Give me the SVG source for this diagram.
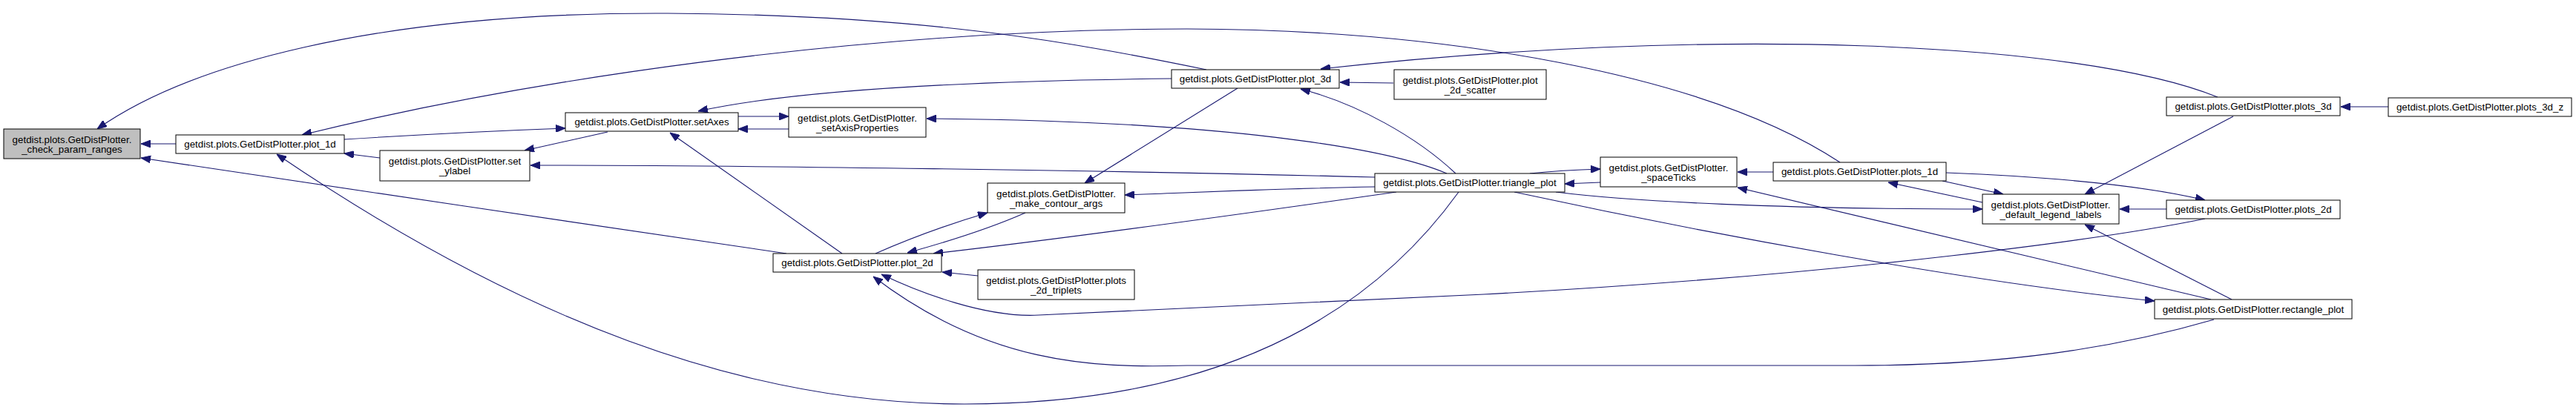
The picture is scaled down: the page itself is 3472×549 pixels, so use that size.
<svg xmlns="http://www.w3.org/2000/svg" width="3472" height="549" viewBox="0 0 3472 549">
<style>
  .node rect { fill: #ffffff; stroke: #000000; stroke-width: 1; }
  .node.root rect { fill: #bfbfbf; }
  .node text { font-family: "Liberation Sans", Arial, sans-serif; font-size: 13.33px; fill: #000000; text-anchor: middle; }
  .edges path { fill: none; stroke: #191970; stroke-width: 1.1; marker-end: url(#arrow); }
</style>
<defs>
  <marker id="arrow" markerUnits="userSpaceOnUse" markerWidth="13" markerHeight="10" refX="13" refY="5" orient="auto">
    <path d="M0,0 L13,5 L0,10 z" fill="#191970" stroke="#191970" stroke-width="1"/>
  </marker>
</defs>
<rect x="0" y="0" width="3472" height="549" fill="#ffffff"/>
<g class="edges" id="edges">
  <path id="e1" d="M237,194 L190,194"/>
  <path id="e2" d="M1626,94 C1450,58 1250,20 900,18 C500,16 250,90 131,174"/>
  <path id="e3" d="M1060,342 C800,304 450,252 190,213"/>
  <path id="e4" d="M512,213 L464,207"/>
  <path id="e5" d="M1966,259 C1850,420 1650,545 1300,545 C1000,545 700,430 373,208"/>
  <path id="e6" d="M464,188 C560,182 680,176 762,173"/>
  <path id="e7" d="M2480,219 C2300,100 1950,40 1600,39 C1150,40 700,110 407,182"/>
  <path id="e8" d="M995,157 L1063,157"/>
  <path id="e9" d="M1063,174 L995,174"/>
  <path id="e10" d="M1579,106 C1400,108 1100,115 941,150"/>
  <path id="e11" d="M819,178 L707,203"/>
  <path id="e12" d="M1853,239 C1500,230 1000,223 715,223"/>
  <path id="e13" d="M1135,342 L903,179"/>
  <path id="e14" d="M1950,234 C1870,200 1650,163 1249,160"/>
  <path id="e15" d="M1180,342 C1230,320 1280,302 1331,287"/>
  <path id="e16" d="M1382,287 C1330,310 1270,328 1223,341"/>
  <path id="e17" d="M1668,119 L1462,247"/>
  <path id="e18" d="M1853,252 C1700,255 1600,260 1516,263"/>
  <path id="e19" d="M1882,259 C1700,285 1450,320 1258,342"/>
  <path id="e20" d="M1318,372 L1270,367"/>
  <path id="e21" d="M2972,295 C2850,320 2500,370 2000,397 C1750,410 1500,419 1400,425 C1330,429 1240,395 1188,370"/>
  <path id="e22" d="M2984,431 C2850,470 2700,493 2500,493 L1600,493 C1470,497 1330,490 1177,373"/>
  <path id="e23" d="M1878,112 L1806,111"/>
  <path id="e24" d="M1962,234 C1910,185 1830,140 1753,120"/>
  <path id="e25" d="M2989,131 C2800,55 2300,35 1780,93"/>
  <path id="e26" d="M2062,234 C2090,231 2120,229 2157,228"/>
  <path id="e27" d="M2157,246 L2109,248"/>
  <path id="e28" d="M2390,232 L2342,232"/>
  <path id="e29" d="M2980,404 L2342,253"/>
  <path id="e30" d="M2097,259 C2200,272 2400,282 2672,282"/>
  <path id="e31" d="M2041,259 C2300,315 2650,380 2904,406"/>
  <path id="e32" d="M2618,244 L2700,262"/>
  <path id="e33" d="M2672,273 L2545,246"/>
  <path id="e34" d="M2623,233 C2750,238 2880,248 2972,270"/>
  <path id="e35" d="M3010,157 L2810,262"/>
  <path id="e36" d="M2920,282 L2857,282"/>
  <path id="e37" d="M3008,404 L2810,303"/>
  <path id="e38" d="M3219,144 L3155,144"/>
</g>
<g class="node root" id="n_check_param_ranges">
  <rect x="5" y="174" width="184" height="40"/>
  <text x="97" y="192.5">getdist.plots.GetDistPlotter.</text>
  <text x="97" y="206">_check_param_ranges</text>
</g>
<g class="node" id="n_plot_1d">
  <rect x="237" y="182" width="227" height="25"/>
  <text x="350.5" y="199">getdist.plots.GetDistPlotter.plot_1d</text>
</g>
<g class="node" id="n_set_ylabel">
  <rect x="512" y="203" width="202" height="41"/>
  <text x="613" y="221.5">getdist.plots.GetDistPlotter.set</text>
  <text x="613" y="235">_ylabel</text>
</g>
<g class="node" id="n_setAxes">
  <rect x="762" y="152" width="233" height="25"/>
  <text x="878.5" y="169">getdist.plots.GetDistPlotter.setAxes</text>
</g>
<g class="node" id="n_setAxisProperties">
  <rect x="1063" y="145" width="185" height="40"/>
  <text x="1155.5" y="163.5">getdist.plots.GetDistPlotter.</text>
  <text x="1155.5" y="177">_setAxisProperties</text>
</g>
<g class="node" id="n_make_contour_args">
  <rect x="1331" y="247" width="185" height="40"/>
  <text x="1423.5" y="265.5">getdist.plots.GetDistPlotter.</text>
  <text x="1423.5" y="279">_make_contour_args</text>
</g>
<g class="node" id="n_plot_2d">
  <rect x="1042" y="342" width="227" height="25"/>
  <text x="1155.5" y="359">getdist.plots.GetDistPlotter.plot_2d</text>
</g>
<g class="node" id="n_plots_2d_triplets">
  <rect x="1318" y="364" width="211" height="40"/>
  <text x="1423.5" y="382.5">getdist.plots.GetDistPlotter.plots</text>
  <text x="1423.5" y="396">_2d_triplets</text>
</g>
<g class="node" id="n_plot_3d">
  <rect x="1579" y="94" width="226" height="25"/>
  <text x="1692" y="111">getdist.plots.GetDistPlotter.plot_3d</text>
</g>
<g class="node" id="n_plot_2d_scatter">
  <rect x="1879" y="94" width="205" height="40"/>
  <text x="1981.5" y="112.5">getdist.plots.GetDistPlotter.plot</text>
  <text x="1981.5" y="126">_2d_scatter</text>
</g>
<g class="node" id="n_triangle_plot">
  <rect x="1853" y="234" width="256" height="25"/>
  <text x="1981" y="251">getdist.plots.GetDistPlotter.triangle_plot</text>
</g>
<g class="node" id="n_spaceTicks">
  <rect x="2157" y="212" width="184" height="40"/>
  <text x="2249" y="230.5">getdist.plots.GetDistPlotter.</text>
  <text x="2249" y="244">_spaceTicks</text>
</g>
<g class="node" id="n_plots_1d">
  <rect x="2390" y="219" width="233" height="25"/>
  <text x="2506.5" y="236">getdist.plots.GetDistPlotter.plots_1d</text>
</g>
<g class="node" id="n_default_legend_labels">
  <rect x="2672" y="262" width="184" height="40"/>
  <text x="2764" y="280.5">getdist.plots.GetDistPlotter.</text>
  <text x="2764" y="294">_default_legend_labels</text>
</g>
<g class="node" id="n_plots_3d">
  <rect x="2920" y="131" width="234" height="25"/>
  <text x="3037" y="148">getdist.plots.GetDistPlotter.plots_3d</text>
</g>
<g class="node" id="n_plots_2d">
  <rect x="2920" y="270" width="234" height="25"/>
  <text x="3037" y="287">getdist.plots.GetDistPlotter.plots_2d</text>
</g>
<g class="node" id="n_rectangle_plot">
  <rect x="2904" y="404" width="266" height="26"/>
  <text x="3037" y="421.5">getdist.plots.GetDistPlotter.rectangle_plot</text>
</g>
<g class="node" id="n_plots_3d_z">
  <rect x="3219" y="132" width="247" height="25"/>
  <text x="3342.5" y="149">getdist.plots.GetDistPlotter.plots_3d_z</text>
</g>
</svg>
